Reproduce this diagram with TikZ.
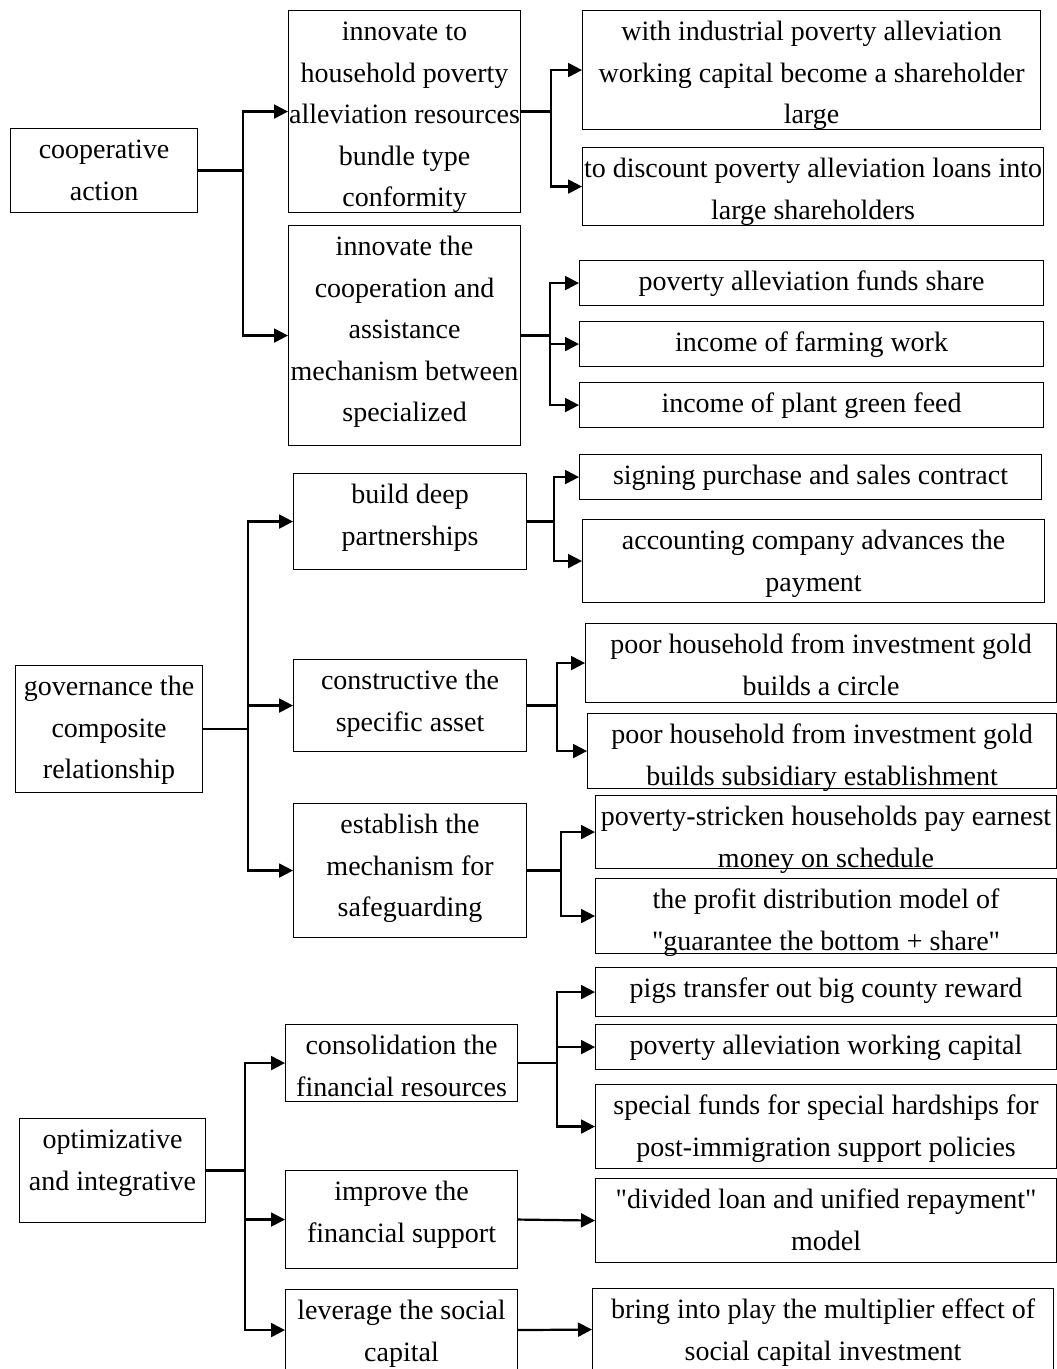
\documentclass[tikz,border=0pt]{standalone}
\usepackage{fontspec}
\setmainfont{Liberation Serif}
\usetikzlibrary{arrows.meta}
\tikzset{
    BX/.style ={rectangle, draw, line width=1.1pt, anchor=north west, inner sep=0pt, align=center, font=\fontsize{28}{41.5}\selectfont},
    L1/.style ={text height=30pt},
    L2/.style ={text height=71.5pt},
    L3/.style ={text height=113pt},
    L5/.style ={text height=196pt},
    AR/.style ={line width=2.2pt, -{Triangle[length=14pt,width=14pt]}}
}
\begin{document}
\begin{tikzpicture}[x=1pt,y=-1pt]
        \useasboundingbox (0,0) rectangle (1057,1369);
        % first group
        \node[BX, L2, minimum width=187pt, text depth=12.5pt] (coop) at (10,128) {cooperative\\action};
        \node[BX, L5, minimum width=232pt, text depth=6pt] (inno1) at (288,10) {innovate to\\household poverty\\alleviation resources\\bundle type\\conformity};
        \node[BX, L5, minimum width=232pt, text depth=24pt] (inno2) at (288,225) {innovate the\\cooperation and\\assistance\\mechanism between\\specialized};
        \node[BX, L3, minimum width=458pt, text depth=6pt] (share) at (582,10) {with industrial poverty alleviation\\working capital become a shareholder\\large};
        \node[BX, L2, minimum width=461pt, text depth=6.5pt] (loan) at (582,147) {to discount poverty alleviation loans into\\large shareholders};
        \node[BX, L1, minimum width=464pt, text depth=15pt] (fund) at (579,260) {poverty alleviation funds share};
        \node[BX, L1, minimum width=464pt, text depth=15pt] (farm) at (579,321) {income of farming work};
        \node[BX, L1, minimum width=464pt, text depth=15pt] (feed) at (579,382) {income of plant green feed};
        \draw[AR] (coop.east) -- ++(45,0) |- (inno1.west);
        \draw[AR] (coop.east) -- ++(45,0) |- (inno2.west);
        \draw[AR] (inno1.east) -- ++(30,0) |- (share.west);
        \draw[AR] (inno1.east) -- ++(30,0) |- (loan.west);
        \foreach \n in {fund,farm,feed}
            \draw[AR] (inno2.east) -- ++(29,0) |- (\n.west);
        % second group
        \node[BX, L3, minimum width=187pt, text depth=14pt] (gov) at (15,665) {governance the\\composite\\relationship};
        \node[BX, L2, minimum width=233pt, text depth=24.5pt] (deep) at (293,473) {build deep\\partnerships};
        \node[BX, L2, minimum width=233pt, text depth=20.5pt] (asset) at (293,659) {constructive the\\specific asset};
        \node[BX, L3, minimum width=233pt, text depth=21pt] (safe) at (293,803) {establish the\\mechanism for\\safeguarding};
        \node[BX, L1, minimum width=462pt, text depth=15pt] (sign) at (579,454) {signing purchase and sales contract};
        \node[BX, L2, minimum width=462pt, text depth=11.5pt] (pay) at (582,519) {accounting company advances the\\payment};
        \node[BX, L2, minimum width=471pt, text depth=7.5pt] (circ) at (585,623) {poor household from investment gold\\builds a circle};
        \node[BX, L2, minimum width=469pt, text depth=3.5pt] (subs) at (587,713) {poor household from investment gold\\builds subsidiary establishment};
        \node[BX, L2, minimum width=461pt, text depth=1.5pt] (earn) at (595,795) {poverty-stricken households pay earnest\\money on schedule};
        \node[BX, L2, minimum width=461pt, text depth=3.5pt] (prof) at (595,878) {the profit distribution model of\\\textquotedbl guarantee the bottom + share\textquotedbl};
        \foreach \n in {deep,asset,safe}
            \draw[AR] (gov.east) -- ++(45,0) |- (\n.west);
        \draw[AR] (deep.east) -- ++(27,0) |- (sign.west);
        \draw[AR] (deep.east) -- ++(27,0) |- (pay.west);
        \draw[AR] (asset.east) -- ++(30,0) |- (circ.west);
        \draw[AR] (asset.east) -- ++(30,0) |- (subs.west);
        \draw[AR] (safe.east) -- ++(34,0) |- (earn.west);
        \draw[AR] (safe.east) -- ++(34,0) |- (prof.west);
        % third group
        \node[BX, L2, minimum width=186pt, text depth=32.5pt] (opt) at (19,1118) {optimizative\\and integrative};
        \node[BX, L2, minimum width=232pt, text depth=5.5pt] (cons) at (285,1024) {consolidation the\\financial resources};
        \node[BX, L2, minimum width=232pt, text depth=26.5pt] (supp) at (285,1170) {improve the\\financial support};
        \node[BX, L2, minimum width=232pt, text depth=9.5pt] (lev) at (285,1289) {leverage the social\\capital};
        \node[BX, L1, minimum width=461pt, text depth=19pt] (pigs) at (595,967) {pigs transfer out big county reward};
        \node[BX, L1, minimum width=461pt, text depth=15pt] (work) at (595,1024) {poverty alleviation working capital};
        \node[BX, L2, minimum width=461pt, text depth=12.5pt] (spec) at (595,1084) {special funds for special hardships for\\post-immigration support policies};
        \node[BX, L2, minimum width=461pt, text depth=12.5pt] (divi) at (595,1178) {\textquotedbl divided loan and unified repayment\textquotedbl\\model};
        \node[BX, L2, minimum width=461pt, text depth=10.5pt] (mult) at (592,1288) {bring into play the multiplier effect of\\social capital investment};
        \foreach \n in {cons,supp,lev}
            \draw[AR] (opt.east) -- ++(39,0) |- (\n.west);
        \foreach \n in {pigs,work,spec}
            \draw[AR] (cons.east) -- ++(39,0) |- (\n.west);
        \draw[AR] (supp.east) -- (divi.west);
        \draw[AR] (lev.east) -- (mult.west);
    \end{tikzpicture}
\end{document}
